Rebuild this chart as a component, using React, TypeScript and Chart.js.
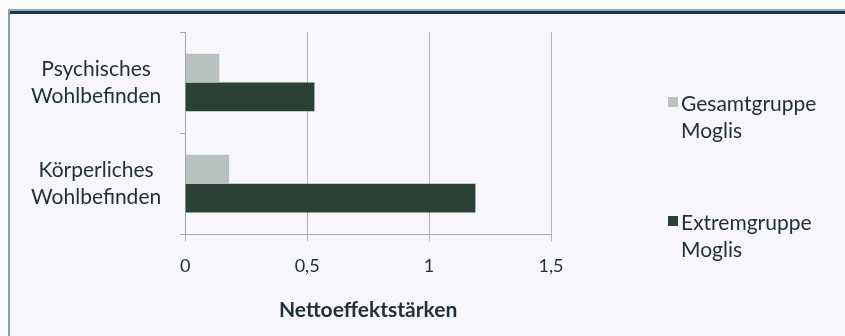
import React, { useEffect, useRef } from "react";
import { Chart, registerables } from "chart.js";

Chart.register(...registerables);

const categories: string[][] = [
  ["Psychisches", "Wohlbefinden"],
  ["Körperliches", "Wohlbefinden"],
];
const seriesNames: string[][] = [
  ["Gesamtgruppe", "Moglis"],
  ["Extremgruppe", "Moglis"],
];
const seriesColors: string[] = ["#b8c1be", "#2c4135"];
const gesamtValues: number[] = [0.14, 0.18];
const extremValues: number[] = [0.53, 1.19];
const xTicks: number[] = [0, 0.5, 1, 1.5];
const xTickLabels: string[] = ["0", "0,5", "1", "1,5"];
const axisTitle = "Nettoeffektstärken";

const TEXT = "#22303c";
const FONT = "Lato";

export default function App() {
  const ref = useRef<HTMLCanvasElement | null>(null);
  useEffect(() => {
    if (!ref.current) return;
    const chart = new Chart(ref.current, {
      type: "bar",
      data: {
        labels: categories,
        datasets: [
          {
            label: seriesNames[0].join(" "),
            data: gesamtValues,
            backgroundColor: seriesColors[0],
            categoryPercentage: 0.57,
            barPercentage: 1,
          },
          {
            label: seriesNames[1].join(" "),
            data: extremValues,
            backgroundColor: seriesColors[1],
            categoryPercentage: 0.57,
            barPercentage: 1,
          },
        ],
      },
      options: {
        indexAxis: "y",
        animation: false,
        responsive: false,
        maintainAspectRatio: false,
        layout: { padding: { left: 12, top: 32, right: 294, bottom: 13 } },
        scales: {
          x: {
            min: 0,
            max: 1.5,
            afterBuildTicks: (axis: any) => {
              axis.ticks = xTicks.map((v) => ({ value: v }));
            },
            ticks: {
              color: TEXT,
              font: { family: FONT, size: 18 },
              padding: 14,
              callback: (v: any) => {
                const i = xTicks.indexOf(Number(v));
                return i >= 0 ? xTickLabels[i] : "";
              },
            },
            grid: { color: "#a9b9cb", lineWidth: 1, tickLength: 7 },
            border: { color: "#a0aebb" },
            title: {
              display: true,
              text: axisTitle,
              color: TEXT,
              font: { family: FONT, size: 21, weight: "bold" },
              padding: { top: 7, bottom: 0 },
            },
          },
          y: {
            afterFit: (scale: any) => {
              scale.paddingTop = 0;
              scale.paddingBottom = 0;
            },
            ticks: {
              color: TEXT,
              font: { family: FONT, size: 21, lineHeight: 1.286 },
              crossAlign: "center",
              padding: 19,
            },
            grid: { drawOnChartArea: false, tickLength: 5, color: "#9aa5ae" },
            border: { color: "#9aa5ae" },
          },
        },
        plugins: {
          legend: { display: false },
          tooltip: { enabled: false },
        },
      },
    });
    return () => chart.destroy();
  }, []);

  const legendTops = [89, 208];

  return (
    <div
      style={{
        position: "fixed",
        left: 0,
        top: 0,
        width: 845,
        height: 336,
        background: "#fbfbfd",
        overflow: "hidden",
      }}
    >
      <div
        style={{
          position: "absolute",
          left: 8,
          top: 9,
          width: 837,
          height: 327,
          background: "#f7f7fb",
          borderTop: "2px solid #7fb0d8",
          boxSizing: "border-box",
        }}
      />
      <div
        style={{
          position: "absolute",
          left: 10,
          top: 11,
          width: 835,
          height: 3,
          background: "#263238",
        }}
      />
      <div
        style={{
          position: "absolute",
          left: 8,
          top: 11,
          width: 2,
          height: 325,
          background: "#8c9daa",
        }}
      />
      <canvas
        ref={ref}
        width={845}
        height={336}
        style={{ position: "absolute", left: 0, top: 0 }}
      />
      {seriesNames.map((name, i) => (
        <div
          key={i}
          style={{
            position: "absolute",
            left: 668,
            top: legendTops[i],
            fontFamily: FONT,
            fontSize: 21,
            lineHeight: "27px",
            color: TEXT,
          }}
        >
          <span
            style={{
              position: "absolute",
              left: 0,
              top: 8,
              width: 10,
              height: 10,
              background: seriesColors[i],
            }}
          />
          <div style={{ marginLeft: 13, whiteSpace: "nowrap" }}>
            {name.map((line, j) => (
              <div key={j}>{line}</div>
            ))}
          </div>
        </div>
      ))}
    </div>
  );
}
